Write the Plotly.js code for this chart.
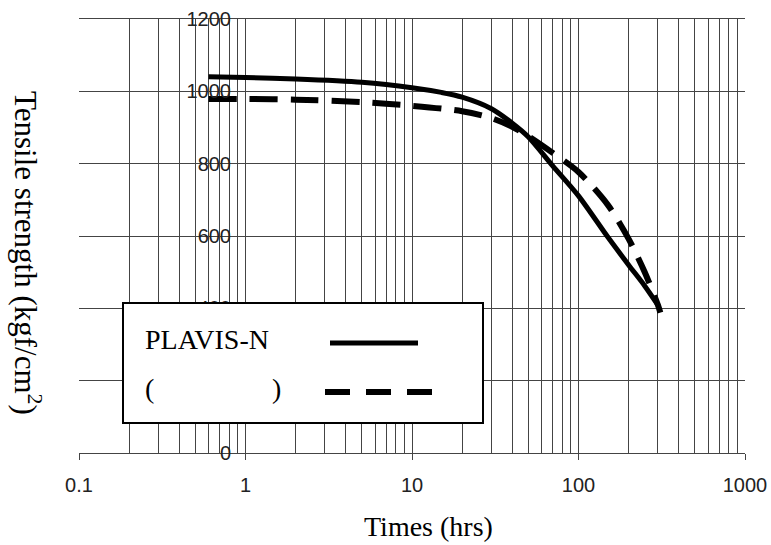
<!DOCTYPE html>
<html>
<head>
<meta charset="utf-8">
<script src="https://cdn.plot.ly/plotly-3.0.1.min.js"></script>
<style>html,body{margin:0;padding:0;background:#fff;}#chart{width:771px;height:545px;}</style>
</head>
<body>
<div id="chart"></div>
<script>
// Data
const solidX = [0.6, 1, 2, 5, 10, 15, 20, 30, 40, 50, 70, 100, 150, 200, 250, 300];
const solidY = [1040, 1038, 1034, 1025, 1010, 997, 984, 952, 912, 874, 794, 711, 597, 520, 462, 409];
const dashX = [0.6, 1, 2, 5, 10, 20, 30, 40, 50, 70, 100, 150, 200, 250, 300, 310];
const dashY = [979, 979, 977, 970, 960, 945, 926, 902, 876, 830, 777, 686, 592, 500, 409, 388];
const xTickVals = [0.1, 1, 10, 100, 1000];
const xTickText = ['0.1', '1', '10', '100', '1000'];
const yTickVals = [0, 200, 400, 600, 800, 1000, 1200];
const yTickText = ['0', '200', '400', '600', '800', '1000', '1200'];
const legendNames = ['PLAVIS-N', '(', ')'];
const xTitle = 'Times (hrs)';
const yTitle = 'Tensile strength (kgf/cm<sup>2</sup>)';

// plot area in pixels: left 79, right 745, top 19, bottom 453
const L = 79, R = 745, T = 19, B = 453;
const px = v => (v - L) / (R - L);
const py = v => (B - v) / (B - T);

const serif = 'Liberation Serif, Times New Roman, serif';
const sans = 'Liberation Sans, Arial, sans-serif';
const gridCol = '#444';

const traces = [
  {x: solidX, y: solidY, type: 'scatter', mode: 'lines', name: legendNames[0],
   line: {color: '#000', width: 5, shape: 'spline', smoothing: 0.8}},
  {x: dashX, y: dashY, type: 'scatter', mode: 'lines', name: 'dashed',
   line: {color: '#000', width: 6, dash: '28px,13px', shape: 'spline', smoothing: 0.8}}
];

const layout = {
  width: 771, height: 545,
  margin: {l: L, r: 771 - R, t: T, b: 545 - B},
  paper_bgcolor: '#fff', plot_bgcolor: '#fff',
  showlegend: false,
  xaxis: {
    type: 'log', range: [-1, 3],
    tickvals: xTickVals, ticktext: xTickText,
    ticks: 'outside', ticklen: 6, tickcolor: gridCol, tickwidth: 1,
    ticklabelstandoff: 8,
    tickfont: {family: sans, size: 20, color: '#222'},
    showgrid: true, gridcolor: gridCol, gridwidth: 1,
    minor: {dtick: 'D1', showgrid: true, gridcolor: gridCol, gridwidth: 1, ticks: ''},
    showline: true, mirror: true, linecolor: gridCol, linewidth: 1,
    zeroline: false
  },
  yaxis: {
    range: [0, 1200],
    tickvals: yTickVals, ticktext: yTickText,
    anchor: 'free', position: px(231),
    ticks: '', showline: false,
    tickfont: {family: sans, size: 20, color: '#222'},
    showgrid: true, gridcolor: gridCol, gridwidth: 1,
    zeroline: false
  },
  shapes: [
    {type: 'rect', xref: 'paper', yref: 'paper', x0: px(123), x1: px(483), y0: py(423), y1: py(303),
     fillcolor: '#fff', line: {color: '#000', width: 2}, layer: 'above'},
    {type: 'line', xref: 'paper', yref: 'paper', x0: px(330), x1: px(418), y0: py(343), y1: py(343),
     line: {color: '#000', width: 5}, layer: 'above'},
    {type: 'line', xref: 'paper', yref: 'paper', x0: px(325), x1: px(432), y0: py(392), y1: py(392),
     line: {color: '#000', width: 6, dash: '25px,16px'}, layer: 'above'}
  ],
  annotations: [
    {xref: 'paper', yref: 'paper', x: px(143), y: py(339), xanchor: 'left', yanchor: 'middle',
     text: legendNames[0], showarrow: false, font: {family: serif, size: 28, color: '#000'}},
    {xref: 'paper', yref: 'paper', x: px(143), y: py(388), xanchor: 'left', yanchor: 'middle',
     text: legendNames[1], showarrow: false, font: {family: serif, size: 28, color: '#000'}},
    {xref: 'paper', yref: 'paper', x: px(270), y: py(388), xanchor: 'left', yanchor: 'middle',
     text: legendNames[2], showarrow: false, font: {family: serif, size: 28, color: '#000'}},
    {xref: 'paper', yref: 'paper', x: px(428), y: py(526), xanchor: 'center', yanchor: 'middle',
     text: xTitle, showarrow: false, font: {family: serif, size: 28, color: '#000'}},
    {xref: 'paper', yref: 'paper', x: px(28), y: py(253), xanchor: 'center', yanchor: 'middle',
     text: yTitle, textangle: 90, showarrow: false, font: {family: serif, size: 31, color: '#000'}}
  ]
};

Plotly.newPlot('chart', traces, layout, {staticPlot: true, displayModeBar: false});
</script>
</body>
</html>
